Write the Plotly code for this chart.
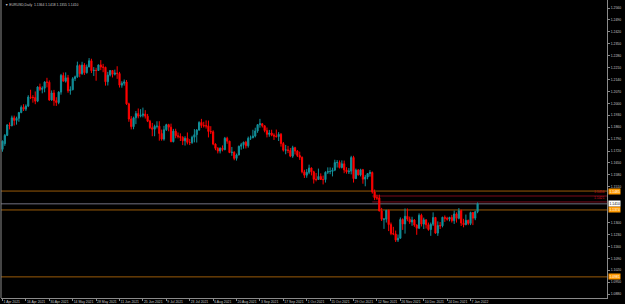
import plotly.graph_objects as go
import pandas as pd

# ---------------- data ----------------
tick_labels = ["1 Apr 2021", "16 Apr 2021", "30 Apr 2021", "14 May 2021", "28 May 2021",
               "11 Jun 2021", "25 Jun 2021", "9 Jul 2021", "23 Jul 2021", "6 Aug 2021",
               "20 Aug 2021", "3 Sep 2021", "17 Sep 2021", "1 Oct 2021", "15 Oct 2021",
               "29 Oct 2021", "12 Nov 2021", "26 Nov 2021", "10 Dec 2021", "24 Dec 2021",
               "7 Jan 2022"]

price_ticks = [1.2560, 1.2490, 1.2420, 1.2350, 1.2280, 1.2210, 1.2140, 1.2070, 1.2000,
               1.1930, 1.1860, 1.1790, 1.1720, 1.1650, 1.1580, 1.1510, 1.1300,
               1.1230, 1.1160, 1.1090, 1.1020, 1.0950, 1.0880]

open_ = [
 1.1730, 1.1763, 1.1812, 1.1873, 1.1869, 1.1915, 1.1900, 1.1912, 1.1946, 1.1977, 1.1966,
 1.1984, 1.2037, 1.2035, 1.2034, 1.2013, 1.2096, 1.2082, 1.2089, 1.2125, 1.2124,
 1.2020, 1.2061, 1.2016, 1.2005, 1.2066, 1.2164, 1.2130, 1.2150, 1.2074, 1.2080, 1.2145,
 1.2156, 1.2222, 1.2174, 1.2225, 1.2180, 1.2214, 1.2250, 1.2192, 1.2194, 1.2193,
 1.2226, 1.2213, 1.2212, 1.2127, 1.2166, 1.2193, 1.2171, 1.2178, 1.2175, 1.2107, 1.2118,
 1.2126, 1.1997, 1.1908, 1.1863, 1.1915, 1.1940, 1.1925, 1.1930, 1.1937, 1.1925, 1.1895,
 1.1857, 1.1848, 1.1865, 1.1866, 1.1823, 1.1790, 1.1845, 1.1875, 1.1860, 1.1775, 1.1837,
 1.1810, 1.1806, 1.1800, 1.1780, 1.1795, 1.1771, 1.1770, 1.1801, 1.1816, 1.1843, 1.1888,
 1.1870, 1.1868, 1.1868, 1.1835, 1.1833, 1.1761, 1.1736, 1.1720, 1.1737, 1.1728, 1.1795,
 1.1778, 1.1711, 1.1713, 1.1677, 1.1697, 1.1748, 1.1757, 1.1772, 1.1751, 1.1795, 1.1798,
 1.1808, 1.1838, 1.1875, 1.1880, 1.1868, 1.1840, 1.1818, 1.1826, 1.1813, 1.1808, 1.1805,
 1.1818, 1.1764, 1.1725, 1.1727, 1.1723, 1.1690, 1.1740, 1.1720, 1.1694, 1.1683, 1.1598,
 1.1578, 1.1595, 1.1620, 1.1598, 1.1554, 1.1553, 1.1571, 1.1553, 1.1552, 1.1595, 1.1600,
 1.1600, 1.1608, 1.1652, 1.1653, 1.1623, 1.1645, 1.1609, 1.1598, 1.1602, 1.1682,
 1.1558, 1.1608, 1.1580, 1.1610, 1.1555, 1.1567, 1.1588, 1.1594, 1.1480, 1.1445, 1.1445,
 1.1368, 1.1319, 1.1320, 1.1372, 1.1288, 1.1236, 1.1233, 1.1197, 1.1208, 1.1318, 1.1292,
 1.1337, 1.1320, 1.1303, 1.1315, 1.1285, 1.1267, 1.1343, 1.1291, 1.1316, 1.1287, 1.1259,
 1.1290, 1.1330, 1.1238, 1.1283, 1.1281, 1.1331, 1.1325, 1.1320, 1.1330, 1.1311, 1.1351,
 1.1325,
 1.1370, 1.1297, 1.1287, 1.1313, 1.1295, 1.1359, 1.1326, 1.1364]

high = [
 1.1782, 1.1820, 1.1878, 1.1888, 1.1928, 1.1928, 1.1922, 1.1950, 1.1988, 1.1995, 1.1994,
 1.2048, 1.2080, 1.2048, 1.2070, 1.2100, 1.2116, 1.2100, 1.2130, 1.2150, 1.2135,
 1.2076, 1.2079, 1.2036, 1.2071, 1.2173, 1.2181, 1.2182, 1.2167, 1.2100, 1.2154, 1.2163,
 1.2245, 1.2229, 1.2244, 1.2236, 1.2228, 1.2266, 1.2262, 1.2213, 1.2209, 1.2228,
 1.2254, 1.2232, 1.2215, 1.2185, 1.2196, 1.2195, 1.2198, 1.2218, 1.2185, 1.2130, 1.2140,
 1.2137, 1.2004, 1.1925, 1.1922, 1.1955, 1.1970, 1.1966, 1.1975, 1.1960, 1.1938, 1.1903,
 1.1885, 1.1875, 1.1895, 1.1895, 1.1846, 1.1868, 1.1880, 1.1880, 1.1881, 1.1850, 1.1851,
 1.1829, 1.1824, 1.1807, 1.1807, 1.1829, 1.1790, 1.1810, 1.1849, 1.1849, 1.1895, 1.1909,
 1.1892, 1.1900, 1.1899, 1.1866, 1.1842, 1.1765, 1.1743, 1.1741, 1.1753, 1.1803, 1.1804,
 1.1780, 1.1744, 1.1719, 1.1705, 1.1752, 1.1768, 1.1775, 1.1780, 1.1805, 1.1811, 1.1845,
 1.1857, 1.1873, 1.1909, 1.1884, 1.1871, 1.1858, 1.1844, 1.1845, 1.1824, 1.1846, 1.1831,
 1.1826, 1.1773, 1.1756, 1.1750, 1.1738, 1.1751, 1.1745, 1.1725, 1.1716, 1.1688, 1.1610,
 1.1614, 1.1640, 1.1624, 1.1604, 1.1591, 1.1617, 1.1589, 1.1576, 1.1601, 1.1624, 1.1624,
 1.1622, 1.1669, 1.1667, 1.1665, 1.1665, 1.1664, 1.1625, 1.1620, 1.1692, 1.1692,
 1.1617, 1.1614, 1.1616, 1.1615, 1.1580, 1.1590, 1.1608, 1.1600, 1.1494, 1.1464, 1.1464,
 1.1386, 1.1327, 1.1374, 1.1375, 1.1300, 1.1275, 1.1253, 1.1230, 1.1330, 1.1325, 1.1383,
 1.1383, 1.1335, 1.1334, 1.1320, 1.1290, 1.1354, 1.1352, 1.1329, 1.1319, 1.1300, 1.1300,
 1.1360, 1.1333, 1.1307, 1.1303, 1.1334, 1.1342, 1.1334, 1.1334, 1.1345, 1.1370, 1.1360,
 1.1385,
 1.1376, 1.1322, 1.1347, 1.1317, 1.1364, 1.1362, 1.1370, 1.1418]

low = [
 1.1716, 1.1750, 1.1808, 1.1847, 1.1865, 1.1870, 1.1875, 1.1892, 1.1942, 1.1955, 1.1955,
 1.1978, 1.2025, 1.2004, 1.1995, 1.2007, 1.2073, 1.2059, 1.2065, 1.2094, 1.2015,
 1.2015, 1.1986, 1.1985, 1.1995, 1.2051, 1.2130, 1.2122, 1.2062, 1.2051, 1.2077, 1.2131,
 1.2150, 1.2153, 1.2168, 1.2167, 1.2175, 1.2212, 1.2178, 1.2161, 1.2133, 1.2190,
 1.2195, 1.2183, 1.2104, 1.2105, 1.2158, 1.2152, 1.2164, 1.2144, 1.2093, 1.2092, 1.2104,
 1.1991, 1.1892, 1.1847, 1.1848, 1.1878, 1.1912, 1.1918, 1.1918, 1.1911, 1.1890, 1.1850,
 1.1807, 1.1807, 1.1853, 1.1781, 1.1781, 1.1781, 1.1838, 1.1836, 1.1772, 1.1771, 1.1795,
 1.1794, 1.1779, 1.1755, 1.1752, 1.1759, 1.1755, 1.1762, 1.1771, 1.1770, 1.1840, 1.1856,
 1.1858, 1.1852, 1.1800, 1.1820, 1.1754, 1.1725, 1.1706, 1.1706, 1.1718, 1.1725, 1.1763,
 1.1708, 1.1692, 1.1666, 1.1664, 1.1695, 1.1728, 1.1734, 1.1735, 1.1740, 1.1785, 1.1795,
 1.1800, 1.1827, 1.1857, 1.1858, 1.1830, 1.1800, 1.1804, 1.1807, 1.1785, 1.1799, 1.1779,
 1.1746, 1.1717, 1.1701, 1.1708, 1.1684, 1.1680, 1.1700, 1.1685, 1.1668, 1.1589, 1.1562,
 1.1563, 1.1584, 1.1577, 1.1529, 1.1542, 1.1551, 1.1550, 1.1524, 1.1535, 1.1585, 1.1584,
 1.1571, 1.1602, 1.1623, 1.1618, 1.1618, 1.1590, 1.1587, 1.1585, 1.1583, 1.1535,
 1.1556, 1.1576, 1.1571, 1.1528, 1.1513, 1.1554, 1.1570, 1.1470, 1.1432, 1.1433, 1.1366,
 1.1309, 1.1263, 1.1300, 1.1250, 1.1226, 1.1226, 1.1186, 1.1186, 1.1205, 1.1257, 1.1235,
 1.1308, 1.1292, 1.1281, 1.1275, 1.1228, 1.1262, 1.1277, 1.1262, 1.1265, 1.1252, 1.1222,
 1.1280, 1.1234, 1.1222, 1.1262, 1.1272, 1.1304, 1.1311, 1.1307, 1.1300, 1.1292, 1.1300,
 1.1319,
 1.1280, 1.1272, 1.1285, 1.1285, 1.1285, 1.1285, 1.1314, 1.1355]

close = [
 1.1778, 1.1812, 1.1873, 1.1869, 1.1915, 1.1900, 1.1912, 1.1946, 1.1977, 1.1966, 1.1984,
 1.2037, 1.2035, 1.2034, 1.2013, 1.2096, 1.2082, 1.2089, 1.2125, 1.2124, 1.2020,
 1.2061, 1.2016, 1.2005, 1.2066, 1.2164, 1.2130, 1.2150, 1.2074, 1.2080, 1.2145, 1.2156,
 1.2222, 1.2174, 1.2225, 1.2180, 1.2214, 1.2250, 1.2192, 1.2194, 1.2193, 1.2226,
 1.2213, 1.2212, 1.2127, 1.2166, 1.2193, 1.2171, 1.2178, 1.2175, 1.2107, 1.2118, 1.2126,
 1.1997, 1.1908, 1.1863, 1.1915, 1.1940, 1.1925, 1.1930, 1.1937, 1.1925, 1.1895, 1.1857,
 1.1848, 1.1865, 1.1866, 1.1823, 1.1790, 1.1845, 1.1875, 1.1860, 1.1775, 1.1837, 1.1810,
 1.1806, 1.1800, 1.1780, 1.1795, 1.1771, 1.1770, 1.1801, 1.1816, 1.1843, 1.1888, 1.1870,
 1.1868, 1.1868, 1.1835, 1.1833, 1.1761, 1.1736, 1.1720, 1.1737, 1.1728, 1.1795, 1.1778,
 1.1711, 1.1713, 1.1677, 1.1697, 1.1748, 1.1757, 1.1772, 1.1751, 1.1795, 1.1798, 1.1808,
 1.1838, 1.1875, 1.1880, 1.1868, 1.1840, 1.1818, 1.1826, 1.1813, 1.1808, 1.1805, 1.1818,
 1.1764, 1.1725, 1.1727, 1.1723, 1.1690, 1.1740, 1.1720, 1.1694, 1.1683, 1.1598, 1.1578,
 1.1595, 1.1620, 1.1598, 1.1554, 1.1553, 1.1571, 1.1553, 1.1552, 1.1595, 1.1600, 1.1600,
 1.1608, 1.1652, 1.1653, 1.1623, 1.1645, 1.1609, 1.1598, 1.1602, 1.1682, 1.1558,
 1.1608, 1.1580, 1.1610, 1.1555, 1.1567, 1.1588, 1.1594, 1.1480, 1.1445, 1.1445, 1.1368,
 1.1319, 1.1320, 1.1372, 1.1288, 1.1236, 1.1233, 1.1197, 1.1208, 1.1318, 1.1292, 1.1337,
 1.1320, 1.1303, 1.1315, 1.1285, 1.1267, 1.1343, 1.1291, 1.1316, 1.1287, 1.1259, 1.1290,
 1.1330, 1.1238, 1.1283, 1.1281, 1.1331, 1.1325, 1.1320, 1.1330, 1.1311, 1.1351, 1.1325,
 1.1370,
 1.1297, 1.1287, 1.1313, 1.1295, 1.1359, 1.1326, 1.1364, 1.1410]

# horizontal levels drawn on the chart
orange_levels = [1.1485, 1.1374, 1.0981]
red_levels = [1.1456, 1.1421]
bid_price = 1.1410
title_text = "\u25BC EURUSD,Daily  1.1364 1.1418 1.1355 1.1410"

# ---------------- build ----------------
dates = [d for d in pd.bdate_range("2021-04-01", "2022-01-12") if d != pd.Timestamp("2021-04-02")]
dates = dates[:len(close)]
idx = list(range(len(close)))
lab = {f"{d.day} {d.strftime('%b %Y')}": i for i, d in enumerate(dates)}
tickvals = [lab[t] for t in tick_labels]

TEAL = "#12909A"
RED = "#FF0000"
AX = "#8A8A8A"
TXT = "#C8C8C8"
FONT = "Liberation Sans"

fig = go.Figure()
fig.add_trace(go.Candlestick(
    x=idx, open=open_, high=high, low=low, close=close,
    increasing=dict(line=dict(color=TEAL, width=1), fillcolor=TEAL),
    decreasing=dict(line=dict(color=RED, width=1), fillcolor=RED),
    whiskerwidth=0, hoverinfo="skip", showlegend=False))

shapes = []
annotations = []
for lv in orange_levels:
    shapes.append(dict(type="line", xref="paper", x0=0, x1=1, yref="y", y0=lv, y1=lv,
                       line=dict(color="#9A5A08", width=1), layer="below"))
    annotations.append(dict(xref="paper", x=1, xanchor="left", xshift=1, yref="y", y=lv,
                            text=f"{lv:.4f}", showarrow=False, bgcolor="#FF9900",
                            font=dict(size=3.4, color="#FFFFFF", family=FONT), borderpad=0.5))
start_red = lab["10 Nov 2021"]
for lv in red_levels:
    shapes.append(dict(type="line", xref="x", x0=start_red, x1=258.3, yref="y", y0=lv, y1=lv,
                       line=dict(color="#7A0A1A", width=1), layer="below"))
    annotations.append(dict(xref="paper", x=1, xanchor="right", xshift=-1, yref="y", y=lv,
                            yanchor="bottom", text=f"{lv:.4f}", showarrow=False,
                            font=dict(size=3.4, color="#D01020", family=FONT)))
shapes.append(dict(type="line", xref="paper", x0=0, x1=1, yref="y", y0=bid_price, y1=bid_price,
                   line=dict(color="#707080", width=1), layer="below"))
annotations.append(dict(xref="paper", x=1, xanchor="left", xshift=1, yref="y", y=bid_price,
                        text=f"{bid_price:.4f}", showarrow=False, bgcolor="#FFFFFF",
                        font=dict(size=3.4, color="#000000", family=FONT), borderpad=0.5))
annotations.append(dict(xref="paper", yref="paper", x=0, y=1, xanchor="left", yanchor="top",
                        xshift=2, yshift=-1, text=title_text, showarrow=False,
                        font=dict(size=3.4, color=TXT, family=FONT)))

fig.update_layout(
    template="none",
    width=625, height=304,
    margin=dict(l=1, r=18, t=0, b=6),
    paper_bgcolor="#000000", plot_bgcolor="#000000",
    shapes=shapes, annotations=annotations,
    xaxis=dict(range=[-0.64, 258.3], rangeslider=dict(visible=False), automargin=False,
               tickmode="array", tickvals=tickvals, ticktext=tick_labels, tickangle=0,
               ticks="outside", ticklen=2, tickcolor=AX, showgrid=False, zeroline=False,
               showline=True, linecolor=AX, linewidth=1, mirror=False,
               ticklabelposition="outside right",
               tickfont=dict(size=3.4, color=TXT, family=FONT)),
    yaxis=dict(range=[1.0857, 1.2607], side="right", tickmode="array", automargin=False,
               tickvals=price_ticks, ticktext=[f"{v:.4f}" for v in price_ticks],
               ticks="outside", ticklen=2, tickcolor=AX, showgrid=False, zeroline=False,
               showline=True, linecolor=AX, linewidth=1,
               tickfont=dict(size=3.4, color=TXT, family=FONT)),
)
fig.add_shape(type="line", xref="paper", yref="paper", x0=0, x1=0, y0=0, y1=1,
              line=dict(color=AX, width=1))

fig.write_html("out.html")
